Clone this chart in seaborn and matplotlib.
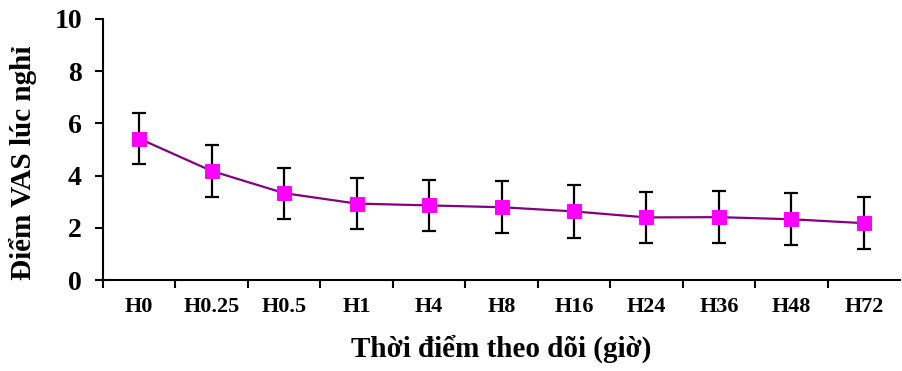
import numpy as np
import pandas as pd
import seaborn as sns
import matplotlib.pyplot as plt
from matplotlib.ticker import FixedLocator

# data
time_points = ["H0", "H0.25", "H0.5", "H1", "H4", "H8", "H16", "H24", "H36", "H48", "H72"]
vas_mean = [5.42, 4.18, 3.33, 2.93, 2.86, 2.79, 2.63, 2.40, 2.41, 2.33, 2.18]
vas_sd = [0.98, 1.00, 0.98, 0.99, 0.99, 0.99, 1.00, 0.99, 0.99, 1.00, 1.00]

sns.set_style("ticks")
plt.rcParams['font.family'] = ['Liberation Serif', 'DejaVu Serif']
plt.rcParams['font.weight'] = 'bold'
plt.rcParams['text.color'] = 'black'
plt.rcParams['axes.labelcolor'] = 'black'
plt.rcParams['xtick.color'] = 'black'
plt.rcParams['ytick.color'] = 'black'
plt.rcParams['axes.edgecolor'] = 'black'

df = pd.DataFrame({"pos": np.arange(len(time_points)), "vas": vas_mean})

fig = plt.figure(figsize=(9.02, 3.71), dpi=100)
ax = fig.add_axes([0.114, 0.245, 0.884, 0.704])

# error bars first, markers on top
ax.errorbar(df["pos"], df["vas"], yerr=vas_sd, fmt="none", ecolor="black",
            elinewidth=1.6, capsize=5, capthick=1.6, zorder=2)
sns.lineplot(data=df, x="pos", y="vas", color="#800080", linewidth=1.6,
             marker="s", markersize=10, markerfacecolor="#FF00FF",
             markeredgecolor="#FF00FF", ax=ax, zorder=3)

ax.set_xlim(-0.5, len(time_points) - 0.5)
ax.set_ylim(0, 10)
ax.set_yticks([0, 2, 4, 6, 8, 10])
ax.set_xticks(df["pos"])
ax.set_xticklabels(time_points, fontsize=16, fontweight="bold")
ax.xaxis.set_minor_locator(FixedLocator(np.arange(-0.5, len(time_points) - 0.5, 1.0)))
ax.tick_params(axis="x", which="major", length=0, pad=12)
ax.tick_params(axis="x", which="minor", length=6, width=1.5, direction="out")
ax.tick_params(axis="y", length=6, width=1.5, labelsize=20, pad=9)
for lbl in ax.get_yticklabels():
    lbl.set_fontweight("bold")

ax.set_xlabel("Thời điểm theo dõi (giờ)", fontsize=21, fontweight="bold", labelpad=13)
ax.set_ylabel("Điểm VAS lúc nghỉ", fontsize=21, fontweight="bold")
ax.yaxis.set_label_coords(-0.083, 0.45)

sns.despine(ax=ax)
ax.spines["left"].set_linewidth(1.5)
ax.spines["bottom"].set_linewidth(1.5)

fig.savefig("out.png", dpi=100)
